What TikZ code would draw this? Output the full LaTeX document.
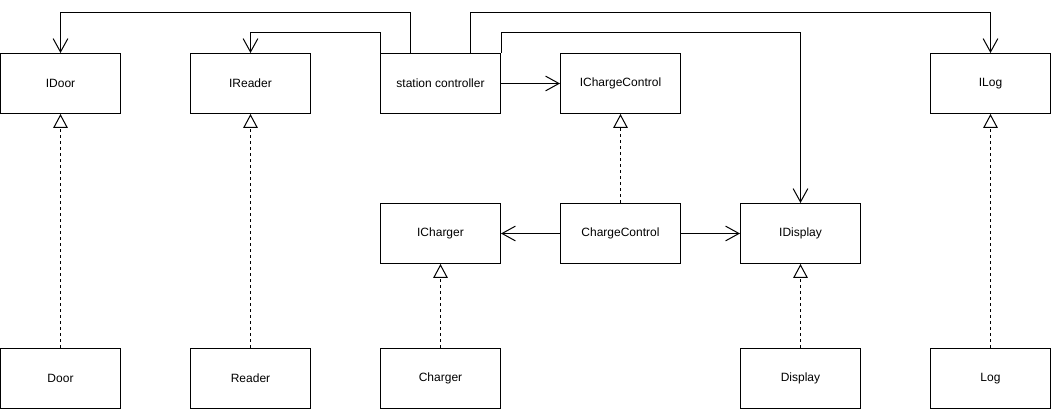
\documentclass[tikz,border=0pt]{standalone}
\usepackage{fontspec}
\setmainfont{Liberation Sans}
\usetikzlibrary{arrows.meta}
\begin{document}
\begin{tikzpicture}[x=0.75pt,y=-0.75pt,line width=0.75pt,
		box/.style={rectangle,draw=black,line width=0.75pt,minimum width=90pt,minimum height=45pt,inner sep=2pt,font=\fontsize{9pt}{11pt}\selectfont},
		uses/.style={-{Straight Barb[length=10pt,width=11pt]}},
		realizes/.style={dash pattern=on 2.25pt off 2.25pt,-{Triangle[open,length=10.5pt,width=11pt]}}]
		\useasboundingbox (0,0) rectangle (1051,409);
		% interfaces
		\node[box] (idoor) at (60.5,83.5) {IDoor};
		\node[box] (ireader) at (250.5,83.5) {IReader};
		\node[box] (station) at (440.5,83.5) {station controller};
		\node[box] (ichargecontrol) at (620.5,83.5) {IChargeControl};
		\node[box] (ilog) at (990.5,83.5) {ILog};
		\node[box] (icharger) at (440.5,233.5) {ICharger};
		\node[box] (chargecontrol) at (620.5,233.5) {ChargeControl};
		\node[box] (idisplay) at (800.5,233.5) {IDisplay};
		% implementations
		\node[box] (door) at (60.5,378.5) {Door};
		\node[box] (reader) at (250.5,378.5) {Reader};
		\node[box] (charger) at (440.5,378.5) {Charger};
		\node[box] (display) at (800.5,378.5) {Display};
		\node[box] (log) at (990.5,378.5) {Log};
		% station controller uses
		\draw[uses] ([xshift=-22.5pt]station.north) -- ++(0,-40) -| (idoor.north);
		\draw[uses] (station.north west) -- ++(0,-20) -| (ireader.north);
		\draw[uses] ([xshift=22.5pt]station.north) -- ++(0,-40) -| (ilog.north);
		\draw[uses] (station.north east) -- ++(0,-20) -| (idisplay.north);
		\draw[uses] (station) -- (ichargecontrol);
		\draw[uses] (chargecontrol) -- (icharger);
		\draw[uses] (chargecontrol) -- (idisplay);
		% realizations
		\draw[realizes] (door) -- (idoor);
		\draw[realizes] (reader) -- (ireader);
		\draw[realizes] (charger) -- (icharger);
		\draw[realizes] (display) -- (idisplay);
		\draw[realizes] (log) -- (ilog);
		\draw[realizes] (chargecontrol) -- (ichargecontrol);
	\end{tikzpicture}
\end{document}
